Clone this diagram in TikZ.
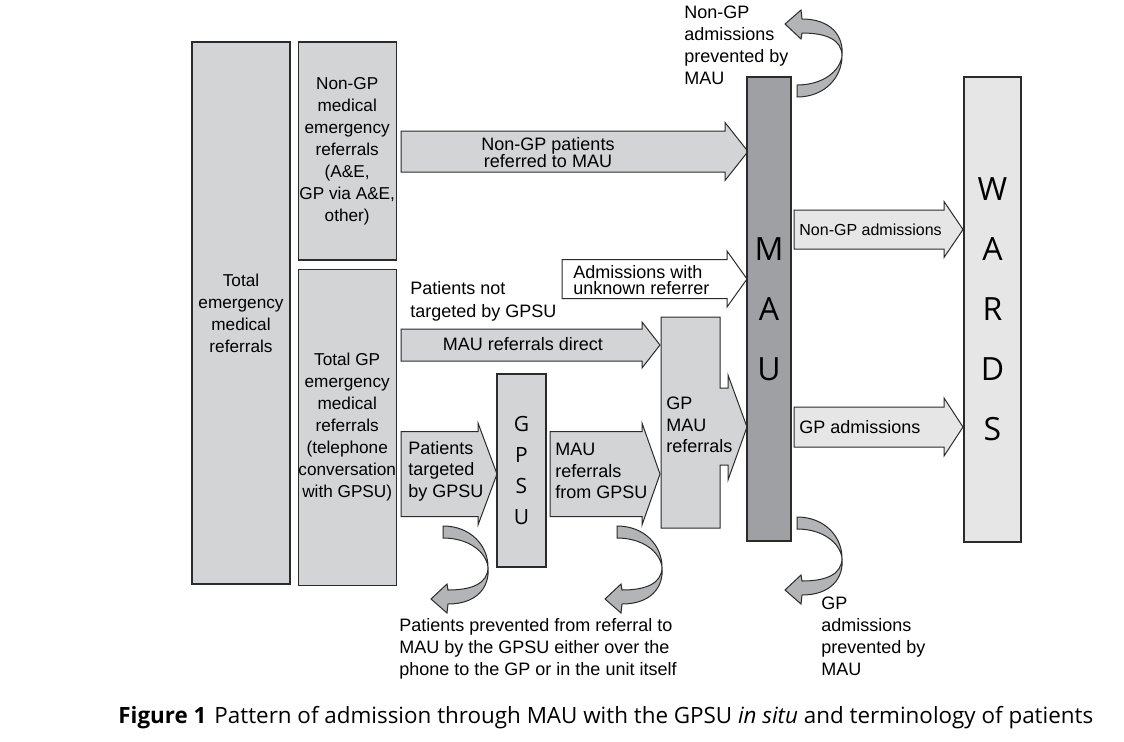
\documentclass[tikz,border=0pt]{standalone}
\usepackage{fontspec}
\setsansfont{Liberation Sans}
\newfontfamily\unitfont{Open Sans}
\usetikzlibrary{positioning}
\definecolor{boxgray}{HTML}{D3D4D6}
\definecolor{maugray}{HTML}{9FA0A4}
\definecolor{wardgray}{HTML}{E6E6E7}
\definecolor{swirlgray}{HTML}{B3B4B6}
\definecolor{edge}{HTML}{2B2B2B}
\tikzset{
    box/.style={draw=edge, line width=0.6pt, fill=boxgray, inner sep=0pt, align=center, font=\sffamily\fontsize{8.6}{11}\selectfont},
    unit/.style={box, font=\unitfont\fontsize{16}{30}\selectfont},
    flow/.style={draw=edge, line width=0.5pt, fill=boxgray},
    lab/.style={inner sep=0pt, align=left, font=\sffamily\fontsize{9}{11}\selectfont},
    swirl/.pic={
        \draw[draw=edge, line width=0.5pt, fill=swirlgray]
            (0,0) .. controls (28,0) and (45,20) .. (45,41)
            .. controls (45,58) and (28,64) .. (5,64) -- (4,58) -- (-12,73) -- (4,87) -- (5,78)
            .. controls (33,78) and (47,62) .. (45,41)
            .. controls (43,26) and (26,12) .. (0,12) -- cycle;
    }
}
% block arrow: [style]{left}{head start}{tip}{centre y}{half shaft}{half head}
\newcommand{\blockarrow}[7][]{%
    \draw[flow, #1] (#2,#5-#6) -- (#3,#5-#6) -- (#3,#5-#7) -- (#4,#5)
        -- (#3,#5+#7) -- (#3,#5+#6) -- (#2,#5+#6) -- cycle;}

\begin{document}
\begin{tikzpicture}[x=0.5pt, y=-0.5pt]
    \useasboundingbox (0,0) rectangle (1124,741);

    % referral columns
    \node [box, minimum width=49pt, minimum height=271pt] (total) at (241,313) {Total\\emergency\\medical\\referrals};
    \node [box, minimum width=49pt, minimum height=109pt, anchor=north west] (nongp) at ([xshift=3.5pt]total.north east)
        {Non-GP\\medical\\emergency\\referrals\\(A\&E,\\GP via A\&E,\\other)};
    \node [box, minimum width=49pt, minimum height=158pt, below=4pt of nongp] (gp)
        {Total GP\\emergency\\medical\\referrals\\(telephone\\conversation\\with GPSU)};

    % flows into MAU
    \blockarrow{401}{725}{748}{151.5}{20.5}{29}
    \blockarrow[fill=white]{562}{727}{747}{279}{19.5}{28}
    \blockarrow{401}{642}{660}{345}{16}{23}
    \blockarrow{401}{478}{497}{474}{42.5}{51}
    \blockarrow{550}{642}{660}{474}{42.5}{51}
    \draw [flow] (661,317) -- (720,317) -- (720,388) -- (728,388) -- (728,375) -- (747,427)
        -- (728,480) -- (728,465) -- (720,465) -- (720,528) -- (661,528) -- cycle;

    % units
    \node [unit, minimum width=24.5pt, minimum height=96.5pt, font=\unitfont\fontsize{10.5}{15.5}\selectfont] (gpsu) at (521.5,470.5) {G\\P\\S\\U};
    \node [unit, fill=maugray, minimum width=22pt, minimum height=232pt] (mau) at (769,309) {M\\A\\U};
    \node [unit, fill=wardgray, minimum width=28.5pt, minimum height=232.5pt] (wards) at (992.5,309.5) {W\\A\\R\\D\\S};

    % flows into wards
    \blockarrow[fill=wardgray]{794}{944}{963}{229.5}{19.5}{28}
    \blockarrow[fill=wardgray]{794}{944}{963}{427}{20}{29}

    % prevented flows
    \pic at (443,526) {swirl};
    \pic at (617,526) {swirl};
    \pic at (797,517) {swirl};
    \pic [yscale=-1] at (797,97) {swirl};

    % labels
    \node [lab, align=center, font=\sffamily\fontsize{9}{8.5}\selectfont] (nongpref) at (548,153) {Non-GP patients\\referred to MAU};
    \node [lab, anchor=west, font=\sffamily\fontsize{9}{8.3}\selectfont] (unknown) at (573,280) {Admissions with\\unknown referrer};
    \node [lab, anchor=west, font=\sffamily\fontsize{9}{11.5}\selectfont] (nottarget) at (410,301) {Patients not\\targeted by GPSU};
    \node [lab] (direct) at (523,344) {MAU referrals direct};
    \node [lab, anchor=west, font=\sffamily\fontsize{9}{10.8}\selectfont] (target) at (408,471) {Patients\\targeted\\by GPSU};
    \node [lab, anchor=west, font=\sffamily\fontsize{9}{10.8}\selectfont] (fromgpsu) at (555,471) {MAU\\referrals\\from GPSU};
    \node [lab, anchor=west, font=\sffamily\fontsize{9}{10.8}\selectfont] (gpmau) at (666,425) {GP\\MAU\\referrals};
    \node [lab, anchor=west, font=\sffamily\fontsize{8}{10}\selectfont] (nongpadm) at (799,230) {Non-GP admissions};
    \node [lab, anchor=west] (gpadm) at (799,427) {GP admissions};
    \node [lab, anchor=west] (prevtop) at (684,45) {Non-GP\\admissions\\prevented by\\MAU};
    \node [lab, anchor=west] (prevmau) at (821,636) {GP\\admissions\\prevented by\\MAU};
    \node [lab, anchor=west] (prevgpsu) at (399,649) {Patients prevented from referral to\\MAU by the GPSU either over the\\phone to the GP or in the unit itself};

    % caption
    \node [lab, anchor=west, font=\unitfont\fontsize{11.2}{13}\selectfont] (caption) at (118,718)
        {\textbf{Figure 1}\hspace{4pt}Pattern of admission through MAU with the GPSU \textit{in situ} and terminology of patients};
\end{tikzpicture}
\end{document}
